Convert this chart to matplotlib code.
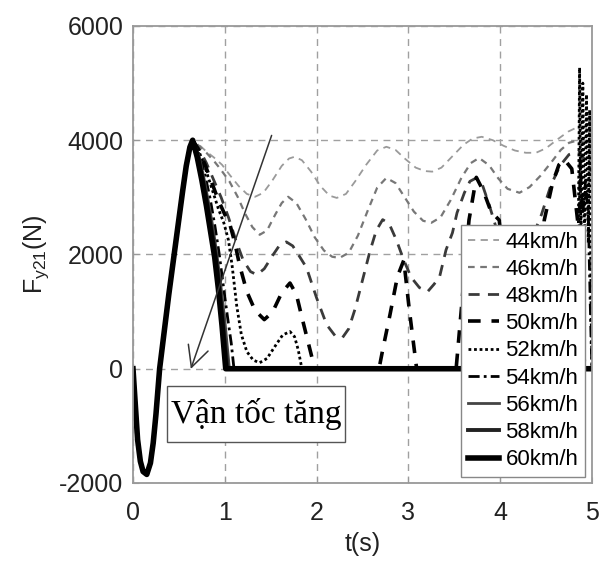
import matplotlib
matplotlib.use('Agg')
import matplotlib.pyplot as plt

plt.rcParams['font.family'] = ['Liberation Sans', 'DejaVu Sans']
plt.rcParams['mathtext.default'] = 'regular'
plt.rcParams['axes.unicode_minus'] = False

# common start of every curve (0 .. peak)
t_rise = [0.00, 0.02, 0.05, 0.08, 0.11, 0.15, 0.19, 0.22, 0.25, 0.29, 0.34, 0.39, 0.44, 0.49, 0.54, 0.58, 0.62, 0.65]
f_rise = [0, -500, -1240, -1620, -1800, -1850, -1650, -1300, -800, 0, 650, 1300, 1900, 2500, 3100, 3550, 3880, 4000]

t44 = [0.72, 0.80, 0.88, 0.97, 1.05, 1.15, 1.24, 1.33, 1.42, 1.52, 1.62, 1.70, 1.76, 1.84, 1.94, 2.04, 2.14,
       2.22, 2.32, 2.42, 2.54, 2.66, 2.76, 2.86, 2.96, 3.08, 3.18, 3.26, 3.36, 3.48, 3.60, 3.70, 3.80, 3.92,
       4.04, 4.16, 4.28, 4.39, 4.50, 4.62, 4.74, 4.83, 4.92, 5.00]
f44 = [3920, 3800, 3700, 3570, 3400, 3200, 3060, 3010, 3080, 3300, 3550, 3680, 3710, 3650, 3450, 3200, 3030,
       2990, 3060, 3280, 3570, 3820, 3885, 3830, 3680, 3520, 3460, 3450, 3520, 3720, 3920, 4030, 4060, 4000,
       3900, 3820, 3780, 3780, 3860, 4010, 4150, 4220, 4230, 4180]

t46 = [0.72, 0.80, 0.88, 0.95, 1.05, 1.14, 1.22, 1.30, 1.38, 1.46, 1.55, 1.62, 1.69, 1.78, 1.88, 1.98, 2.08,
       2.17, 2.25, 2.35, 2.45, 2.56, 2.66, 2.76, 2.86, 2.96, 3.06, 3.16, 3.25, 3.35, 3.46, 3.58, 3.68, 3.77,
       3.88, 3.98, 4.08, 4.21, 4.32, 4.44, 4.56, 4.66, 4.75, 4.85, 5.00]
f46 = [3900, 3780, 3640, 3500, 3280, 3010, 2720, 2480, 2345, 2420, 2700, 2900, 3010, 2900, 2620, 2300, 2070,
       1960, 1940, 2030, 2330, 2780, 3170, 3340, 3250, 3000, 2750, 2590, 2555, 2650, 2950, 3350, 3600, 3690,
       3560, 3330, 3150, 3080, 3180, 3380, 3620, 3830, 3955, 4000, 3900]

t48 = [0.72, 0.80, 0.88, 0.96, 1.04, 1.12, 1.20, 1.28, 1.35, 1.43, 1.52, 1.60, 1.67, 1.74, 1.82, 1.89, 2.00,
       2.11, 2.20, 2.28, 2.35, 2.42, 2.50, 2.58, 2.65, 2.72, 2.79, 2.87, 2.95, 3.03, 3.12, 3.21, 3.28, 3.34,
       3.41, 3.48, 3.53, 3.61, 3.67, 3.74, 3.81, 3.88, 3.95, 4.05, 4.15, 4.25, 4.35, 4.45, 4.55, 4.65, 4.75,
       4.85, 4.95, 5.00]
f48 = [3850, 3600, 3300, 3000, 2650, 2250, 1900, 1700, 1645, 1750, 1980, 2170, 2220, 2150, 1950, 1770, 1240,
       770, 580, 540, 700, 1050, 1550, 2050, 2420, 2610, 2540, 2250, 1900, 1600, 1420, 1350, 1480, 1610,
       2080, 2380, 2730, 3080, 3280, 3340, 3200, 2870, 2500, 2100, 1900, 1950, 2300, 2700, 3200, 3550, 3750,
       3800, 3600, 3450]

t50 = [0.72, 0.79, 0.86, 0.93, 1.00, 1.06, 1.11, 1.16, 1.24, 1.33, 1.43, 1.52, 1.62, 1.71, 1.78, 1.84, 1.91,
       1.98, 2.68, 2.72, 2.80, 2.88, 2.95, 3.01, 3.09, 3.52, 3.58, 3.66, 3.74, 3.82, 3.90, 3.99, 4.06, 4.12,
       4.42, 4.48, 4.57, 4.64, 4.70, 4.78, 4.85, 4.92, 5.00]
f50 = [3820, 3550, 3250, 2950, 2700, 2500, 2200, 1820, 1350, 1020, 860, 990, 1330, 1500, 1300, 900, 450,
       0, 0, 330, 950, 1610, 1900, 1030, 0, 0, 1100, 2600, 3350, 3100, 2750, 2600, 1500, 0,
       0, 2600, 3250, 3570, 3660, 3500, 2500, 0, 0]

t52 = [0.72, 0.79, 0.86, 0.93, 0.99, 1.04, 1.08, 1.13, 1.18, 1.24, 1.31, 1.38, 1.46, 1.55, 1.63, 1.71, 1.76,
       1.80, 1.84, 4.84, 4.865, 4.88, 4.90, 4.92, 4.94, 4.96, 4.975, 4.99, 5.00]
f52 = [3800, 3500, 3150, 2800, 2550, 2250, 1800, 1100, 600, 300, 150, 105, 180, 400, 590, 650, 560,
       330, 0, 0, 5270, 2200, 5000, 2200, 4800, 2200, 4530, 1000, 0]

t54 = [0.72, 0.78, 0.84, 0.89, 0.94, 0.98, 1.03, 1.07, 1.10, 4.84, 4.87, 4.90, 4.93, 4.96, 4.99, 5.00]
f54 = [3760, 3420, 2980, 2520, 2000, 1500, 900, 450, 0, 0, 3660, 2700, 3300, 2660, 500, 0]

t56 = [0.72, 0.77, 0.82, 0.87, 0.91, 0.95, 1.00, 1.05, 5.00]
f56 = [3720, 3360, 2940, 2480, 2050, 1550, 850, 0, 0]

t58 = [0.71, 0.76, 0.81, 0.86, 0.90, 0.94, 0.98, 1.03, 5.00]
f58 = [3700, 3320, 2880, 2400, 1980, 1450, 800, 0, 0]

t60 = [0.70, 0.75, 0.80, 0.85, 0.89, 0.93, 0.97, 1.01, 5.00]
f60 = [3700, 3300, 2850, 2350, 1950, 1400, 750, 0, 0]

labels = ['44km/h', '46km/h', '48km/h', '50km/h', '52km/h', '54km/h', '56km/h', '58km/h', '60km/h']
tails = [(t44, f44), (t46, f46), (t48, f48), (t50, f50), (t52, f52),
         (t54, f54), (t56, f56), (t58, f58), (t60, f60)]

# colour, width, dash style per speed
styles = [
    ('#9a9a9a', 1.3, (0, (4, 3))),
    ('#777777', 1.6, (0, (3, 2.5))),
    ('#3a3a3a', 2.0, (0, (4, 3))),
    ('black', 2.6, (0, (3.5, 3))),
    ('black', 2.0, (0, (1, 1))),
    ('black', 2.0, (0, (4, 1.5, 1, 1.5))),
    ('#444444', 2.0, '-'),
    ('#222222', 2.8, '-'),
    ('black', 4.0, '-'),
]

fig = plt.figure(figsize=(6.01, 5.62), dpi=100)
ax = fig.add_axes([0.2213, 0.1406, 0.7637, 0.8132])

for lab, (tt, ff), (col, lw, ls) in zip(labels, tails, styles):
    ax.plot(t_rise + tt, f_rise + ff, color=col, lw=lw, linestyle=ls, label=lab)

ax.set_xlim(0, 5)
ax.set_ylim(-2000, 6000)
ax.set_xticks([0, 1, 2, 3, 4, 5])
ax.set_yticks([-2000, 0, 2000, 4000, 6000])
ax.grid(True, linestyle=(0, (5, 4)), color='#a0a0a0', linewidth=1.0)
ax.tick_params(direction='in', length=4, color='#999999', labelsize=18, labelcolor='#222222')
ax.tick_params(axis='x', pad=13)
ax.tick_params(axis='y', pad=7)
for sp in ax.spines.values():
    sp.set_color('#999999')
    sp.set_linewidth(1.3)

ax.set_xlabel('t(s)', fontsize=18, color='#222222', labelpad=5)
ax.set_ylabel(r'F$_{y21}$(N)', fontsize=18, color='#222222', labelpad=6)

ax.annotate('', xy=(0.62, -50), xytext=(1.52, 4130),
            arrowprops=dict(arrowstyle='->,head_length=0.5,head_width=0.25', color='#333333',
                            lw=1.1, mutation_scale=30))
ax.text(1.34, -790, 'Vận tốc tăng', ha='center', va='center', fontsize=24,
        family=['Liberation Serif', 'DejaVu Serif'],
        bbox=dict(boxstyle='square,pad=0.1', fc='white', ec='#555555', lw=1.0,
                  mutation_aspect=3.5))

leg = ax.legend(loc='lower right', bbox_to_anchor=(0.985, 0.013), fontsize=16,
                fancybox=False, edgecolor='#888888', framealpha=1,
                handlelength=1.4, handletextpad=0.3, labelspacing=0.28,
                borderpad=0.3, borderaxespad=0)
leg.get_frame().set_linewidth(1.0)

plt.savefig('out.png', dpi=100)
